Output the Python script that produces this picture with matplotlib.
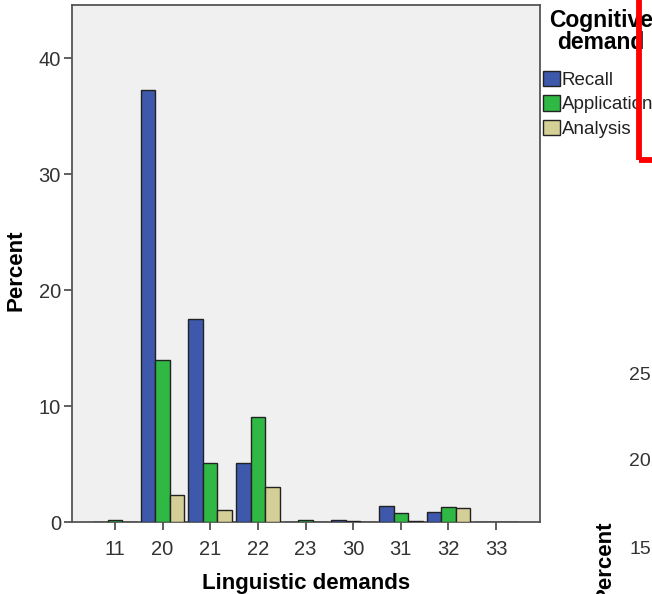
import numpy as np
import matplotlib
matplotlib.use("Agg")
import matplotlib.pyplot as plt
from matplotlib.patches import Rectangle, Patch

plt.rcParams["font.family"] = ["Liberation Sans", "DejaVu Sans"]

# data
categories = ["11", "20", "21", "22", "23", "30", "31", "32", "33"]
series_names = ["Recall", "Application", "Analysis"]
recall = [0.0, 37.3, 17.5, 5.1, 0.0, 0.15, 1.4, 0.9, 0.0]
application = [0.2, 14.0, 5.1, 9.1, 0.2, 0.05, 0.75, 1.3, 0.0]
analysis = [0.0, 2.3, 1.0, 3.0, 0.0, 0.0, 0.05, 1.2, 0.0]
y_ticks = [0, 10, 20, 30, 40]
stray_ticks = ["25", "20", "15"]

colors = ["#3e58ac", "#2fb844", "#d4cf96"]

W, H = 652, 594
fig = plt.figure(figsize=(W / 100, H / 100), dpi=100)
ax = fig.add_axes([72 / W, 1 - 522 / H, (540 - 72) / W, (522 - 5) / H])
ax.set_facecolor("#f0f0f0")

x = np.arange(len(categories))
width = 0.305
for i, (vals, name) in enumerate(zip([recall, application, analysis], series_names)):
    ax.bar(x + (i - 1) * width, vals, width, color=colors[i], edgecolor="#222222",
           linewidth=1.0, label=name, zorder=3)

ax.set_xlim(-0.9, len(categories) - 1 + 0.92)
ax.set_ylim(0, 44.6)
ax.set_xticks(x)
ax.set_xticklabels(categories)
ax.set_yticks(y_ticks)
ax.tick_params(axis="both", direction="out", length=6, width=1.2, color="#444444",
               labelsize=14.5, labelcolor="#333333", pad=2)
ax.tick_params(axis="x", pad=7)
for s in ax.spines.values():
    s.set_color("#555555")
    s.set_linewidth(1.3)

ax.set_xlabel("Linguistic demands", fontsize=16, fontweight="bold", labelpad=10)
ax.set_ylabel("Percent", fontsize=16, fontweight="bold")
ax.yaxis.set_label_coords(-0.098, 0.487)

# legend: title as its own text, entries below
fig.text(601 / W, 1 - 9 / H, "Cognitive\ndemand", fontsize=16.5, fontweight="bold",
         ha="center", va="top", multialignment="center", linespacing=0.92)
handles = [Patch(facecolor=c, edgecolor="#222222", label=n) for c, n in zip(colors, series_names)]
leg = fig.legend(handles=handles, loc="upper left", bbox_to_anchor=(543 / W, 1 - 71 / H),
                 frameon=False, fontsize=13.5,
                 handlelength=0.88, handleheight=0.88, handletextpad=0.12,
                 labelspacing=0.33, borderaxespad=0, borderpad=0.0)
for t in leg.get_texts():
    t.set_color("#222222")

# red box overlay at the top right
fig.patches.append(Rectangle((639 / W, 1 - 160 / H), 0.2, 0.5, fill=False,
                             edgecolor="#ff0000", linewidth=4.2,
                             transform=fig.transFigure, zorder=10))

# part of a neighbouring chart peeking in at the bottom right
for lab, ypix in zip(stray_ticks, [375, 461, 550]):
    fig.text(651 / W, 1 - ypix / H, lab, fontsize=14, color="#333333",
             ha="right", va="center")
fig.text(605 / W, 1 - 521 / H, "Percent", fontsize=16, fontweight="bold",
         rotation=90, ha="center", va="top")

fig.savefig("out.png", dpi=100)
